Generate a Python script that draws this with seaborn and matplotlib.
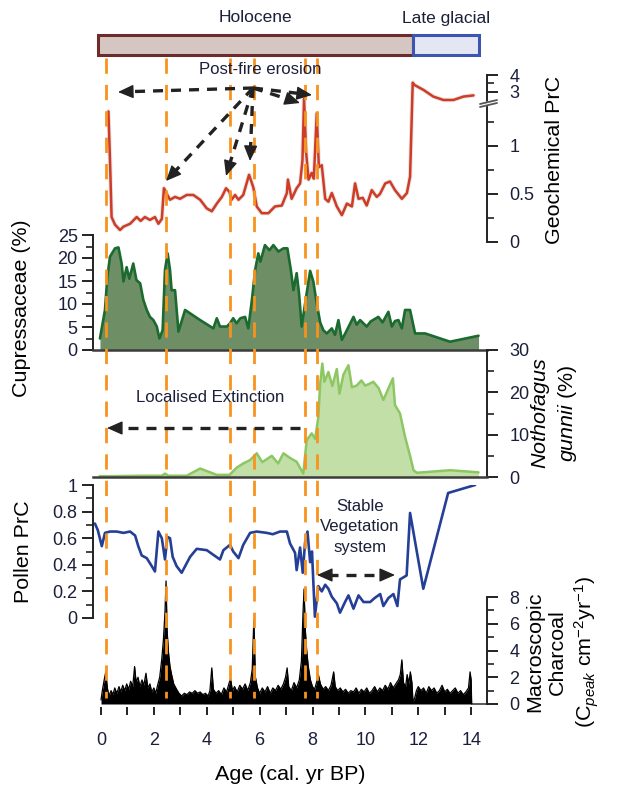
import numpy as np
import pandas as pd
import matplotlib
matplotlib.use("Agg")
import matplotlib.pyplot as plt
import seaborn as sns
import matplotlib.transforms as mtrans
import matplotlib.ticker as mticker
from matplotlib.lines import Line2D
from matplotlib import font_manager

# ---------------- data ----------------
periods = ["Holocene", "Late glacial"]
period_start = [-0.1, 11.79]
period_end = [11.79, 14.31]

fire_events = [0.2, 2.47, 4.88, 5.78, 7.72, 8.18]

geo_age = [0.28,0.34,0.40,0.53,0.72,0.85,1.10,1.35,1.50,1.66,1.85,2.04,2.17,2.30,2.38,2.45,2.61,2.80,2.99,3.24,
           3.49,3.75,4.00,4.19,4.38,4.57,4.73,4.86,4.94,5.07,5.20,5.38,5.60,5.76,5.89,6.08,6.33,6.58,6.84,7.03,
           7.07,7.21,7.40,7.53,7.62,7.68,7.76,7.85,7.97,8.05,8.16,8.24,8.35,8.48,8.60,8.73,8.92,9.11,9.30,9.49,
           9.61,9.74,9.90,10.05,10.24,10.43,10.55,10.75,10.93,11.12,11.38,11.57,11.69,11.79,11.86,12.20,12.57,12.95,13.33,13.71,
           14.09]
geo_val = [1.36,0.85,0.26,0.18,0.125,0.16,0.19,0.26,0.22,0.26,0.23,0.26,0.19,0.24,0.56,0.52,0.44,0.47,0.45,0.49,
           0.49,0.44,0.35,0.32,0.40,0.47,0.56,0.52,0.44,0.49,0.44,0.49,0.70,0.57,0.37,0.30,0.30,0.37,0.38,0.51,
           0.65,0.45,0.56,0.61,0.85,2.6,0.93,0.65,0.72,0.66,1.34,0.78,0.80,0.45,0.42,0.51,0.37,0.28,0.40,0.37,
           0.61,0.45,0.46,0.38,0.54,0.47,0.50,0.61,0.63,0.54,0.45,0.51,0.68,3.55,3.41,3.12,2.73,2.53,2.53,2.73,
           2.8]
geo_ticks = [0, 0.5, 1, 3, 4]
geo_ticklabels = ["0", "0.5", "1", "3", "4"]
geo_minor = [0.25, 0.75, 1.25, 3.5]

cup_age = [-0.04,0.15,0.24,0.34,0.53,0.66,0.78,0.85,0.97,1.07,1.22,1.34,1.48,1.60,1.73,1.85,1.98,2.11,2.21,2.33,
           2.42,2.52,2.61,2.67,2.80,2.93,3.18,3.75,4.25,4.38,4.50,4.76,4.88,5.00,5.13,5.27,5.45,5.57,5.70,5.83,
           5.95,6.03,6.20,6.37,6.52,6.71,6.90,7.05,7.18,7.28,7.40,7.49,7.59,7.72,7.91,8.03,8.16,8.29,8.41,8.54,
           8.73,8.85,8.98,9.11,9.30,9.55,9.67,9.80,10.05,10.20,10.49,10.65,10.87,11.00,11.12,11.25,11.38,11.50,11.69,11.88,
           12.26,13.20,14.28]
cup_val = [2.5,8.7,15.9,20.3,22.1,22.3,18.8,14.9,18.0,15.5,18.8,15.2,14.5,10.9,8.7,7.2,6.5,5.1,2.5,4.3,
           17.4,21.0,17.4,13.0,13.0,4.0,8.7,6.5,4.7,6.9,5.1,5.1,5.8,6.9,5.8,6.9,7.2,4.7,10.5,17.4,
           21.0,19.2,22.8,21.7,22.8,21.4,22.1,22.1,17.4,13.0,16.7,12.3,5.1,10.1,17.2,14.9,10.1,6.0,4.3,3.6,
           4.7,3.3,6.5,2.2,4.3,7.2,5.5,6.5,5.1,6.2,7.2,6.0,8.3,5.1,6.3,6.5,4.7,8.7,8.7,3.6,
           3.6,1.8,3.1]

not_age = [-0.05,0.5,1.48,2.30,2.42,2.55,3.24,3.75,4.38,4.86,5.13,5.38,5.64,5.89,6.10,6.46,6.70,6.90,7.15,7.40,
           7.65,7.78,7.97,8.10,8.22,8.29,8.37,8.45,8.60,8.75,8.92,9.02,9.17,9.36,9.49,9.67,9.85,9.99,10.15,10.30,
           10.50,10.68,10.87,11.04,11.12,11.31,11.50,11.69,11.82,11.95,13.20,14.28]
not_val = [0.2,0.2,0.3,0.3,0.8,0.3,0.3,2.0,0.5,0.5,2.2,3.2,4.0,5.6,3.5,5.0,3.2,5.6,4.5,3.6,
           0.8,8.7,10.3,9.0,14.2,22.0,26.8,22.5,24.8,21.5,25.5,19.7,24.2,26.4,21.2,21.6,22.8,21.6,22.0,22.5,
           21.0,18.2,20.9,23.3,17.0,15.0,9.5,5.0,1.6,1.0,1.6,1.1]

pol_age = [-0.23,-0.12,0.03,0.15,0.34,0.59,0.85,1.10,1.29,1.41,1.54,1.73,1.92,2.04,2.17,2.30,2.42,2.51,2.61,2.71,
           2.86,3.05,3.37,3.62,4.00,4.50,4.63,4.88,5.00,5.20,5.38,5.64,5.89,6.27,6.50,6.77,7.03,7.15,7.34,7.40,
           7.53,7.63,7.72,7.81,7.91,7.98,8.09,8.22,8.35,8.48,8.60,8.73,8.92,9.04,9.23,9.36,9.55,9.74,9.93,10.18,
           10.35,10.56,10.68,10.87,11.06,11.21,11.31,11.56,11.69,12.19,13.13,14.15]
pol_val = [0.71,0.66,0.54,0.64,0.65,0.65,0.64,0.65,0.62,0.54,0.47,0.45,0.39,0.35,0.65,0.60,0.44,0.61,0.60,0.46,
           0.39,0.34,0.46,0.52,0.51,0.44,0.51,0.55,0.50,0.45,0.55,0.64,0.65,0.64,0.63,0.65,0.65,0.56,0.49,0.36,
           0.53,0.34,0.57,0.65,0.42,0.50,0.01,0.24,0.20,0.25,0.22,0.16,0.11,0.04,0.12,0.17,0.07,0.17,0.12,0.12,
           0.15,0.18,0.09,0.15,0.18,0.09,0.29,0.32,0.79,0.22,0.94,1.0]
pol_ticks = [0, 0.2, 0.4, 0.6, 0.8, 1.0]
pol_ticklabels = ["0", "0.2", "0.4", "0.6", "0.8", "1"]

char_age = [0.00,0.05,0.12,0.18,0.24,0.30,0.38,0.45,0.52,0.60,
            0.68,0.75,0.82,0.90,0.97,1.05,1.12,1.20,1.27,1.33,
            1.40,1.47,1.55,1.62,1.70,1.77,1.85,1.92,2.00,2.07,
            2.14,2.22,2.30,2.36,2.42,2.46,2.50,2.55,2.61,2.67,
            2.75,2.86,2.95,3.05,3.15,3.25,3.35,3.45,3.55,3.65,
            3.75,3.85,3.95,4.05,4.12,4.19,4.25,4.35,4.45,4.55,
            4.65,4.75,4.85,4.90,4.97,5.05,5.15,5.25,5.35,5.45,
            5.55,5.65,5.72,5.78,5.84,5.92,6.00,6.10,6.20,6.30,
            6.40,6.50,6.60,6.70,6.80,6.90,6.98,7.04,7.10,7.20,
            7.30,7.40,7.50,7.58,7.64,7.68,7.73,7.78,7.84,7.92,
            8.00,8.08,8.15,8.22,8.30,8.40,8.50,8.60,8.70,8.80,
            8.86,8.95,9.05,9.15,9.25,9.35,9.45,9.55,9.65,9.75,
            9.85,9.95,10.05,10.15,10.25,10.35,10.45,10.55,10.65,10.75,
            10.85,10.95,11.05,11.15,11.25,11.32,11.38,11.44,11.52,11.58,
            11.64,11.70,11.76,11.80,11.86,11.93,12.00,12.10,12.20,12.30,
            12.40,12.50,12.60,12.70,12.80,12.90,13.00,13.10,13.20,13.30,
            13.40,13.50,13.60,13.70,13.80,13.90,13.96,14.00,14.02,14.60]
char_val = [0.3,1.0,1.8,2.4,1.2,0.6,1.0,0.7,1.2,0.8,
            1.3,0.9,1.4,1.0,1.5,1.1,1.7,1.3,2.8,1.6,
            2.0,1.3,1.8,1.4,2.3,1.2,1.5,0.9,1.2,0.8,
            1.4,2.0,3.4,4.8,6.9,9.2,5.5,3.9,2.8,2.2,
            1.5,1.1,0.8,0.6,0.8,0.7,0.9,0.8,1.0,0.8,
            0.9,0.7,0.8,0.6,1.0,2.7,1.1,0.8,1.0,0.7,
            1.2,0.9,1.6,1.9,1.0,1.3,0.9,1.4,1.1,1.5,
            1.0,1.6,2.6,6.3,2.0,1.2,0.8,1.2,0.9,1.3,
            0.8,1.2,1.0,1.4,1.1,1.5,2.0,2.7,1.3,1.0,
            1.6,1.2,1.8,3.2,6.8,8.6,5.5,4.0,2.8,1.8,
            1.3,1.1,1.6,2.2,1.5,1.1,1.3,1.0,1.4,2.4,
            1.3,1.0,1.2,0.9,1.1,0.8,1.0,0.9,1.2,0.8,
            1.1,0.9,1.2,0.8,1.0,1.3,0.9,1.2,1.0,1.4,
            1.1,1.6,1.2,1.5,1.8,2.2,3.3,1.6,1.3,2.2,
            1.5,2.4,1.6,0.2,0.4,1.0,1.3,1.0,1.2,0.8,
            1.3,1.0,1.2,0.8,1.0,1.4,0.9,1.1,0.8,1.0,
            1.2,0.8,1.0,0.7,0.9,1.2,2.4,1.8,0.0,0.0]

# ---------------- style ----------------
sns.set_theme(style="white")
try:
    font_manager.findfont("Liberation Sans Narrow", fallback_to_default=False)
    FAM = "Liberation Sans Narrow"
    NARROW = True
except Exception:
    FAM = "Liberation Sans"
    NARROW = False
S = 1.0 if NARROW else 0.86
plt.rcParams["font.family"] = [FAM, "DejaVu Sans"]
plt.rcParams["mathtext.fontset"] = "custom"
plt.rcParams["mathtext.rm"] = FAM
plt.rcParams["mathtext.it"] = FAM + ":italic"
TICKFAM = ["Liberation Sans", "DejaVu Sans"]

W, H = 631, 795
fig = plt.figure(figsize=(W / 100, H / 100), dpi=100)
fig.patch.set_facecolor("white")

def rect(l, t, r, b):
    return [l / W, 1 - b / H, (r - l) / W, (b - t) / H]

XL = (-0.303, 14.60)
TXT = "#1c1f3a"
SP = "#222222"
TICK_FS = 13

def base_axes(r):
    ax = fig.add_axes(r)
    ax.set_facecolor("none")
    ax.set_xlim(*XL)
    for s in ax.spines.values():
        s.set_visible(False)
        s.set_linewidth(1.4)
        s.set_color(SP)
    ax.tick_params(axis="x", bottom=False, labelbottom=False)
    ax.grid(False)
    return ax

def style_y(ax, side):
    ax.spines[side].set_visible(True)
    if side == "right":
        ax.yaxis.tick_right()
        pad = 8
    else:
        ax.yaxis.tick_left()
        pad = 3
    ax.tick_params(axis="y", which="major", direction="out", length=8, width=1.4,
                   color=SP, labelcolor=TXT, labelsize=TICK_FS, pad=pad)
    ax.tick_params(axis="y", which="minor", direction="out", length=5, width=1.2, color=SP)
    for lab in ax.get_yticklabels():
        lab.set_family(TICKFAM)

# ---- top period bar ----
ax_bar = base_axes(rect(93, 35, 487, 55))
ax_bar.set_ylim(0, 1)
ax_bar.set_yticks([])
bar_face = ["#d5c6c2", "#e4e6f4"]
bar_edge = ["#6e2b2b", "#3b55b0"]
for i, p in enumerate(periods):
    ax_bar.barh(0.5, period_end[i] - period_start[i], left=period_start[i], height=1.0,
                color=bar_face[i], edgecolor=bar_edge[i], linewidth=2.2, clip_on=False)
    ax_bar.text((period_start[i] + period_end[i]) / 2, 1.85, p, ha="center", va="center",
                fontsize=14.5 * S, color=TXT)

# ---- geochemical PrC (broken axis) ----
def geo_fwd(v):
    v = np.asarray(v, dtype=float)
    return np.where(v <= 1.43, v,
                    np.where(v <= 2.364, 1.43 + (v - 1.43) * (0.02 / 0.934),
                             1.45 + (v - 2.364) * 0.177))

def geo_inv(d):
    d = np.asarray(d, dtype=float)
    return np.where(d <= 1.43, d,
                    np.where(d <= 1.45, 1.43 + (d - 1.43) * (0.934 / 0.02),
                             2.364 + (d - 1.45) / 0.177))

ax_geo = base_axes(rect(93, 75, 487, 242))
ax_geo.set_yscale("function", functions=(geo_fwd, geo_inv))
ax_geo.set_ylim(0, 4)
geo_df = pd.DataFrame({"age": geo_age, "prc": geo_val})
sns.lineplot(data=geo_df, x="age", y="prc", ax=ax_geo, color="#d4d4d4", lw=3.2,
             alpha=0.6, sort=False, estimator=None)
sns.lineplot(data=geo_df, x="age", y="prc", ax=ax_geo, color="#cf3b24", lw=1.8,
             sort=False, estimator=None)
ax_geo.set_xlim(*XL)
ax_geo.set_ylim(0, 4)
ax_geo.spines["right"].set_bounds(0, 4)
ax_geo.yaxis.set_major_locator(mticker.FixedLocator(geo_ticks))
ax_geo.yaxis.set_major_formatter(mticker.FixedFormatter(geo_ticklabels))
ax_geo.yaxis.set_minor_locator(mticker.FixedLocator(geo_minor))
style_y(ax_geo, "right")

# ---- Cupressaceae ----
ax_cup = base_axes(rect(93, 235, 487, 350))
ax_cup.fill_between(cup_age, 0, cup_val, color="#6e8f66", lw=0)
sns.lineplot(x=cup_age, y=cup_val, ax=ax_cup, color="#1b6a2f", lw=1.9, sort=False, estimator=None)
ax_cup.set_xlim(*XL)
ax_cup.set_ylim(0, 25)
ax_cup.spines["left"].set_bounds(0, 25)
ax_cup.spines["bottom"].set_visible(True)
ax_cup.spines["bottom"].set_color("#3c3c3c")
ax_cup.spines["bottom"].set_linewidth(1.8)
ax_cup.yaxis.set_major_locator(mticker.MultipleLocator(5))
ax_cup.yaxis.set_minor_locator(mticker.MultipleLocator(2.5))
style_y(ax_cup, "left")

# ---- Nothofagus gunnii ----
ax_not = base_axes(rect(93, 350, 487, 477))
ax_not.fill_between(not_age, 0, not_val, color="#c3dfa8", lw=0)
sns.lineplot(x=not_age, y=not_val, ax=ax_not, color="#8cc763", lw=1.8, sort=False, estimator=None)
ax_not.set_xlim(*XL)
ax_not.set_ylim(0, 30)
ax_not.spines["right"].set_bounds(0, 30)
ax_not.spines["bottom"].set_visible(True)
ax_not.spines["bottom"].set_color("#3c3c3c")
ax_not.spines["bottom"].set_linewidth(1.8)
ax_not.yaxis.set_major_locator(mticker.MultipleLocator(10))
ax_not.yaxis.set_minor_locator(mticker.MultipleLocator(5))
style_y(ax_not, "right")

# ---- Pollen PrC ----
ax_pol = base_axes(rect(93, 485, 487, 618))
sns.lineplot(x=pol_age, y=pol_val, ax=ax_pol, color="#263f96", lw=1.9, sort=False, estimator=None)
ax_pol.set_xlim(*XL)
ax_pol.set_ylim(0, 1)
ax_pol.spines["left"].set_bounds(0, 1)
ax_pol.yaxis.set_major_locator(mticker.FixedLocator(pol_ticks))
ax_pol.yaxis.set_major_formatter(mticker.FixedFormatter(pol_ticklabels))
ax_pol.yaxis.set_minor_locator(mticker.MultipleLocator(0.1))
style_y(ax_pol, "left")

# ---- Macroscopic charcoal ----
ax_cha = base_axes(rect(93, 597, 487, 704))
ax_cha.fill_between(char_age, 0, char_val, color="black", lw=0, clip_on=False)
sns.lineplot(x=char_age, y=char_val, ax=ax_cha, color="black", lw=0.9, sort=False,
             estimator=None, clip_on=False)
ax_cha.set_xlim(*XL)
ax_cha.set_ylim(0, 8)
ax_cha.spines["right"].set_bounds(0, 8)
ax_cha.yaxis.set_major_locator(mticker.MultipleLocator(2))
ax_cha.yaxis.set_minor_locator(mticker.MultipleLocator(1))
style_y(ax_cha, "right")
ax_cha.spines["bottom"].set_position(("outward", 2))
ax_cha.xaxis.set_major_locator(mticker.MultipleLocator(2))
ax_cha.xaxis.set_minor_locator(mticker.MultipleLocator(1))
ax_cha.tick_params(axis="x", which="both", bottom=True, labelbottom=True, direction="out",
                   length=6, width=1.4, color=SP, labelcolor=TXT, labelsize=TICK_FS, pad=12)
for lab in ax_cha.get_xticklabels():
    lab.set_family(TICKFAM)

for ax in [ax_geo, ax_cup, ax_not, ax_pol, ax_cha]:
    ax.set_xlabel("")
    ax.set_ylabel("")

# ---- fire event lines ----
btrans = mtrans.blended_transform_factory(ax_cha.transData, fig.transFigure)
for fx in fire_events:
    ln = Line2D([fx, fx], [1 - 58 / H, 1 - 698 / H], transform=btrans, color="#f7931e",
                lw=2.0, linestyle=(0, (5.5, 4.0)), zorder=20)
    fig.add_artist(ln)

# ---- overlay for annotations (pixel coordinates) ----
ov = fig.add_axes([0, 0, 1, 1])
ov.set_xlim(0, W)
ov.set_ylim(H, 0)
ov.axis("off")
ov.set_zorder(30)
ov.patch.set_visible(False)

ARC = "#222222"

def head(tail, tip):
    ov.annotate("", xy=tip, xytext=tail,
                arrowprops=dict(arrowstyle="-|>,head_length=0.95,head_width=0.42",
                                color=ARC, lw=1.0, mutation_scale=10,
                                shrinkA=0, shrinkB=0))

def arrow(start, end, both=False):
    s = np.array(start, float)
    e = np.array(end, float)
    d = (e - s) / np.linalg.norm(e - s)
    hl = 11.0
    a = s + d * hl if both else s
    b = e - d * hl
    ov.plot([a[0], b[0]], [a[1], b[1]], color=ARC, lw=2.4, linestyle=(0, (3.0, 2.4)),
            solid_capstyle="butt", dash_capstyle="butt")
    head(b - d * 1.5, e)
    if both:
        head(a + d * 1.5, s)

origin = (253, 88)
for tgt in [(118, 92), (166, 181), (226, 176), (250, 161), (300, 103), (312, 95)]:
    arrow(origin, tgt)
arrow((300, 428), (107, 428))
arrow((317, 575), (395, 575), both=True)

ov.text(260, 69, "Post-fire erosion", ha="center", va="center", fontsize=14 * S, color=TXT)
ov.text(210, 398, "Localised Extinction", ha="center", va="center", fontsize=14 * S, color=TXT)
ov.text(360, 527, "Stable\nVegetation\nsystem", ha="center", va="center", fontsize=14 * S,
        color=TXT, linespacing=1.45)

# axis break marks
ov.fill([480, 497, 497, 480], [104, 100, 103, 107], color="white", zorder=5)
ov.plot([480, 497], [104, 100], color="#555555", lw=1.3, zorder=6)
ov.plot([480, 497], [107, 103], color="#555555", lw=1.3, zorder=6)

# axis labels
LBL = 18 * S
ov.text(555, 160, "Geochemical PrC", rotation=90, ha="center", va="center", fontsize=LBL, color="black")
ov.text(22, 308, "Cupressaceae (%)", rotation=90, ha="center", va="center", fontsize=LBL, color="black")
ov.text(554, 413, "$\\it{Nothofagus}$\n$\\it{gunnii}$ (%)", rotation=90, ha="center", va="center",
        fontsize=LBL, color="black", multialignment="center")
ov.text(24, 552, "Pollen PrC", rotation=90, ha="center", va="center", fontsize=LBL, color="black")
ov.text(563, 652, "Macroscopic\nCharcoal\n(C$_{\\it{peak}}$ cm$^{-2}$yr$^{-1}$)", rotation=90,
        ha="center", va="center", fontsize=LBL, color="black", multialignment="center",
        linespacing=1.25)
ov.text(290, 775, "Age (cal. yr BP)", ha="center", va="center", fontsize=LBL, color="black")

fig.savefig("out.png", dpi=100)
